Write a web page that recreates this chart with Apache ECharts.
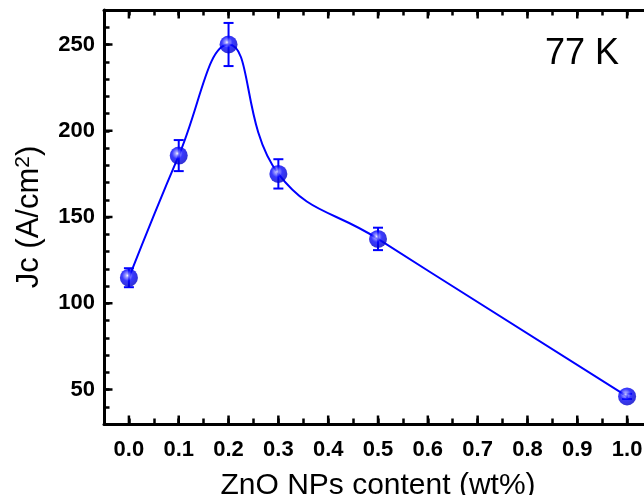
<!DOCTYPE html>
<html>
<head>
<meta charset="utf-8">
<script src="https://cdn.jsdelivr.net/npm/echarts@6/dist/echarts.min.js"></script>
<style>
html,body{margin:0;padding:0;background:#fff;}
#c{width:644px;height:495px;}
</style>
</head>
<body>
<div id="c"></div>
<script>
// Data
var content = [0.0, 0.1, 0.2, 0.3, 0.5, 1.0];
var jc = [114.8, 185.6, 250.0, 175.0, 137.3, 46.0];
var jcErr = [5.5, 9.0, 12.5, 8.5, 6.5, 1.5];
var xTicks = [0.0, 0.1, 0.2, 0.3, 0.4, 0.5, 0.6, 0.7, 0.8, 0.9, 1.0];
var yTicks = [50, 100, 150, 200, 250];
var tempLabel = '77 K';

var BLUE = '#0000ff';
var X_MIN = -0.05, X_MAX = 1.05, Y_MIN = 30, Y_MAX = 270;
var pts = content.map(function (x, i) { return [x, jc[i]]; });
var errData = content.map(function (x, i) { return [x, jc[i], jcErr[i]]; });

function isMajor(v, step) {
  var r = v / step;
  return Math.abs(r - Math.round(r)) < 1e-6;
}

var chart = echarts.init(document.getElementById('c'), null, {renderer: 'canvas'});

var labelFont = {color: '#000', fontFamily: 'Liberation Sans', fontWeight: 'bold', fontSize: 22};
var MINOR_LEN = 5.5, MAJOR_LEN = 8.5, TICK_W = 2.5;

var option = {
  animation: false,
  backgroundColor: '#fff',
  grid: {left: 104, right: -8, top: 10, bottom: 71, containLabel: false, outerBoundsMode: 'none'},
  xAxis: [
    {
      type: 'value', position: 'bottom', min: X_MIN, max: X_MAX, interval: 0.05,
      axisLine: {show: true, onZero: false, lineStyle: {color: '#000', width: 3}},
      axisTick: {show: true, inside: true, length: MINOR_LEN, lineStyle: {color: '#000', width: TICK_W}},
      axisLabel: Object.assign({show: true, margin: 15,
        formatter: function (v) { return isMajor(v, 0.1) && v >= -1e-9 && v <= 1 + 1e-9 ? Math.abs(v).toFixed(1) : ''; }}, labelFont),
      splitLine: {show: false},
      name: 'ZnO NPs content (wt%)', nameLocation: 'middle', nameGap: 47,
      nameTextStyle: {color: '#000', fontFamily: 'Liberation Sans', fontSize: 30}
    },
    {
      type: 'value', position: 'top', min: X_MIN, max: X_MAX, interval: 0.05,
      axisLine: {show: true, onZero: false, lineStyle: {color: '#000', width: 3}},
      axisTick: {show: true, inside: true, length: MINOR_LEN, lineStyle: {color: '#000', width: TICK_W}},
      axisLabel: {show: false}, splitLine: {show: false}
    }
  ],
  yAxis: [
    {
      type: 'value', position: 'left', min: Y_MIN, max: Y_MAX, interval: 10,
      axisLine: {show: true, onZero: false, lineStyle: {color: '#000', width: 3}},
      axisTick: {show: true, inside: true, length: MINOR_LEN, lineStyle: {color: '#000', width: TICK_W}},
      axisLabel: Object.assign({show: true, margin: 9,
        formatter: function (v) { return isMajor(v, 50) ? String(v) : ''; }}, labelFont),
      splitLine: {show: false},
      name: '{a|Jc (A/cm}{s|2}{a|)}',
      nameLocation: 'middle', nameRotate: 90, nameGap: 58,
      nameTextStyle: {
        rich: {
          a: {color: '#000', fontFamily: 'Liberation Sans', fontSize: 31},
          s: {color: '#000', fontFamily: 'Liberation Sans', fontSize: 21, verticalAlign: 'top', padding: [0, 0, 12, 0]}
        }
      }
    }
  ],
  graphic: [{
    type: 'text', left: 545, top: 36, z: 100,
    style: {text: tempLabel, fill: '#000', font: '36px "Liberation Sans"'}
  }],
  series: [
    // longer major ticks on bottom and top x axes
    {
      type: 'custom', xAxisIndex: 0, yAxisIndex: 0, data: xTicks.map(function (v) { return [v, Y_MIN]; }), z: 10, silent: true,
      renderItem: function (params, api) {
        var b = api.coord([api.value(0), Y_MIN]);
        var t = api.coord([api.value(0), Y_MAX]);
        var st = {stroke: '#000', lineWidth: TICK_W};
        return {type: 'group', children: [
          {type: 'line', shape: {x1: b[0], y1: b[1], x2: b[0], y2: b[1] - MAJOR_LEN}, style: st},
          {type: 'line', shape: {x1: t[0], y1: t[1], x2: t[0], y2: t[1] + MAJOR_LEN}, style: st}
        ]};
      }
    },
    // longer major ticks on the y axis
    {
      type: 'custom', xAxisIndex: 0, yAxisIndex: 0, data: yTicks.map(function (v) { return [X_MIN, v]; }), z: 10, silent: true,
      renderItem: function (params, api) {
        var p = api.coord([X_MIN, api.value(1)]);
        return {type: 'line', shape: {x1: p[0], y1: p[1], x2: p[0] + MAJOR_LEN, y2: p[1]}, style: {stroke: '#000', lineWidth: TICK_W}};
      }
    },
    {
      type: 'line', xAxisIndex: 0, yAxisIndex: 0, data: pts, smooth: 0.45,
      showSymbol: false, lineStyle: {color: BLUE, width: 2}, z: 2
    },
    {
      type: 'custom', xAxisIndex: 0, yAxisIndex: 0, data: errData, z: 3,
      renderItem: function (params, api) {
        var x = api.value(0), y = api.value(1), e = api.value(2);
        var t = api.coord([x, y + e]), b = api.coord([x, y - e]);
        var hw = 5;
        var st = {stroke: BLUE, lineWidth: 2};
        return {type: 'group', children: [
          {type: 'line', shape: {x1: t[0], y1: t[1], x2: b[0], y2: b[1]}, style: st},
          {type: 'line', shape: {x1: t[0] - hw, y1: t[1], x2: t[0] + hw, y2: t[1]}, style: st},
          {type: 'line', shape: {x1: b[0] - hw, y1: b[1], x2: b[0] + hw, y2: b[1]}, style: st}
        ]};
      }
    },
    {
      type: 'scatter', xAxisIndex: 0, yAxisIndex: 0, data: pts, symbol: 'circle', symbolSize: 18, z: 5,
      itemStyle: {
        color: {type: 'radial', x: 0.42, y: 0.38, r: 0.62, colorStops: [
          {offset: 0, color: '#ffffff'},
          {offset: 0.16, color: '#8c8cff'},
          {offset: 0.48, color: '#0808ff'},
          {offset: 1, color: '#0000c8'}
        ]}
      }
    }
  ]
};
chart.setOption(option);
</script>
</body>
</html>
